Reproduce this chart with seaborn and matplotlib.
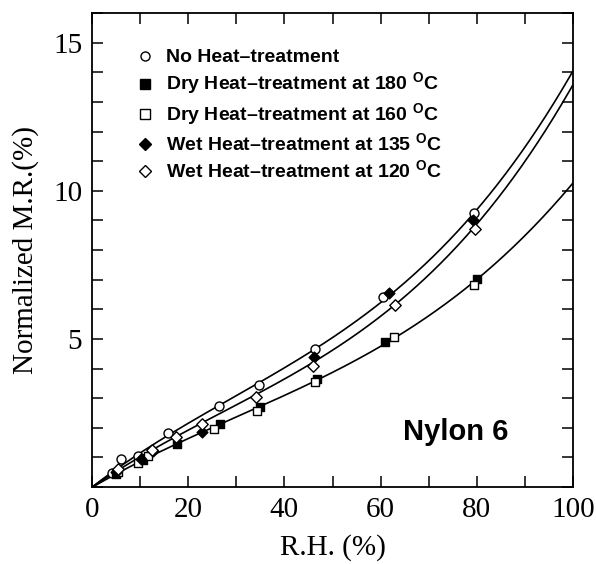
import numpy as np
import pandas as pd
import matplotlib
matplotlib.use("Agg")
import matplotlib.pyplot as plt
import seaborn as sns
from matplotlib.ticker import MultipleLocator, FixedLocator
from matplotlib.lines import Line2D

# ---------------- data ----------------
series_names = [
    "No Heat\u2013treatment",
    "Dry Heat\u2013treatment at 180 $^{\\mathbf{O}}$C",
    "Dry Heat\u2013treatment at 160 $^{\\mathbf{O}}$C",
    "Wet Heat\u2013treatment at 135 $^{\\mathbf{O}}$C",
    "Wet Heat\u2013treatment at 120 $^{\\mathbf{O}}$C",
]

rh_none = [4.1, 6.0, 9.6, 15.7, 26.4, 34.8, 46.4, 60.4, 79.5]
mr_none = [0.46, 0.95, 1.05, 1.81, 2.73, 3.45, 4.65, 6.41, 9.25]

rh_dry180 = [5.0, 10.5, 17.6, 26.6, 34.9, 46.7, 60.9, 80.0]
mr_dry180 = [0.45, 0.92, 1.45, 2.13, 2.69, 3.64, 4.91, 7.02]

rh_dry160 = [5.5, 9.5, 11.7, 25.3, 34.2, 46.4, 62.8, 79.4]
mr_dry160 = [0.52, 0.80, 1.05, 1.95, 2.58, 3.54, 5.06, 6.82]

rh_wet135 = [5.0, 10.2, 12.6, 22.9, 46.2, 61.8, 79.3]
mr_wet135 = [0.50, 0.95, 1.20, 1.87, 4.38, 6.54, 9.02]

rh_wet120 = [5.5, 12.4, 17.5, 22.8, 34.1, 45.9, 63.0, 79.6]
mr_wet120 = [0.62, 1.25, 1.70, 2.13, 3.03, 4.09, 6.15, 8.70]

# fitted curves
rh_curve = [0, 20, 40, 60, 80, 100]
mr_curve_top = [0.0, 2.15, 4.01, 6.25, 9.34, 14.05]
mr_curve_mid = [0.0, 1.90, 3.62, 5.85, 8.80, 13.60]
mr_curve_low = [0.0, 1.60, 3.10, 4.80, 6.95, 10.28]

x_ticks = [0, 20, 40, 60, 80, 100]
y_ticks = [5, 10, 15]

# ---------------- style ----------------
sns.set_theme(style="ticks")
plt.rcParams["font.family"] = ["Liberation Serif", "DejaVu Serif"]
plt.rcParams["mathtext.fontset"] = "custom"
plt.rcParams["mathtext.bf"] = "Liberation Sans:bold"
plt.rcParams["mathtext.rm"] = "Liberation Sans:bold"
for k in ("text.color", "axes.labelcolor", "xtick.color", "ytick.color", "axes.edgecolor"):
    plt.rcParams[k] = "black"

fig = plt.figure(figsize=(5.96, 5.64), dpi=100)
ax = fig.add_axes([92 / 596, 1 - 487 / 564, 481 / 596, 474 / 564])

# curves
xs = np.linspace(0, 100, 300)
for ys in (mr_curve_top, mr_curve_mid, mr_curve_low):
    coef = np.polyfit(rh_curve, ys, 3)
    dfc = pd.DataFrame({"x": xs, "y": np.polyval(coef, xs)})
    sns.lineplot(data=dfc, x="x", y="y", ax=ax, color="black", lw=1.2,
                 estimator=None, sort=False)

# points
specs = [
    (rh_none, mr_none, "o", "white", 42),
    (rh_dry180, mr_dry180, "s", "black", 36),
    (rh_dry160, mr_dry160, "s", "white", 40),
    (rh_wet135, mr_wet135, "D", "black", 30),
    (rh_wet120, mr_wet120, "D", "white", 34),
]
handles = []
for (xv, yv, mk, fc, sz), name in zip(specs, series_names):
    df = pd.DataFrame({"x": xv, "y": yv})
    sns.scatterplot(data=df, x="x", y="y", ax=ax, marker=mk, s=sz,
                    facecolor=fc, edgecolor="black", linewidth=1.0, zorder=3)
    handles.append(Line2D([], [], marker=mk, ls="none", markersize=6.5 if mk != "D" else 5.8,
                          markerfacecolor=fc, markeredgecolor="black",
                          markeredgewidth=1.0, label=name))

ax.set_xlim(0, 100)
ax.set_ylim(0, 16)
ax.xaxis.set_major_locator(FixedLocator(x_ticks))
ax.xaxis.set_minor_locator(MultipleLocator(10))
ax.yaxis.set_major_locator(FixedLocator(y_ticks))
ax.yaxis.set_minor_locator(MultipleLocator(1))
ax.set_xticklabels([str(v) for v in x_ticks])
ax.set_yticklabels([str(v) for v in y_ticks])
ax.tick_params(which="both", direction="in", top=True, right=True,
               length=8, width=1.1, color="black", labelcolor="black",
               labelsize=21, pad=7)
for sp in ax.spines.values():
    sp.set_linewidth(1.3)
    sp.set_color("black")

ax.set_xlabel("R.H. (%)", fontsize=21, labelpad=8, color="black")
ax.set_ylabel("Normalized M.R.(%)", fontsize=21, labelpad=10, color="black")

leg = ax.legend(handles=handles, loc="upper left",
                bbox_to_anchor=(0.07, 0.945), frameon=False,
                handlelength=1.0, handletextpad=0.55, labelspacing=0.22,
                borderpad=0, prop={"family": "Liberation Sans", "weight": "bold", "size": 14})
for t in leg.get_texts():
    t.set_color("black")

ax.text(0.647, 0.116, "Nylon 6", transform=ax.transAxes,
        fontsize=21, fontweight="bold", family="Liberation Sans",
        ha="left", va="center", color="black")

fig.savefig("out.png", dpi=100)
